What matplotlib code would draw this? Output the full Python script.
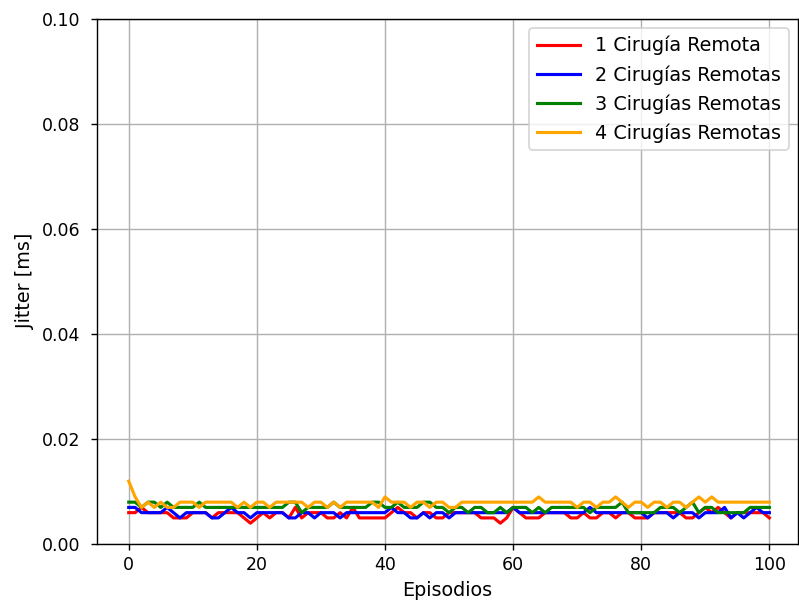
import numpy as np
import matplotlib
matplotlib.use("Agg")
import matplotlib.pyplot as plt

episodes = np.arange(0, 101)

jitter_1 = [
    0.006, 0.006, 0.007, 0.006, 0.006, 0.006, 0.006, 0.005, 0.005, 0.005,
    0.006, 0.006, 0.006, 0.005, 0.006, 0.006, 0.006, 0.006, 0.005, 0.004,
    0.005, 0.006, 0.005, 0.006, 0.006, 0.005, 0.007, 0.005, 0.006, 0.006,
    0.006, 0.005, 0.005, 0.006, 0.005, 0.007, 0.005, 0.005, 0.005, 0.005,
    0.005, 0.006, 0.007, 0.006, 0.006, 0.005, 0.006, 0.006, 0.005, 0.005,
    0.006, 0.006, 0.006, 0.006, 0.006, 0.005, 0.005, 0.005, 0.004, 0.005,
    0.007, 0.006, 0.005, 0.005, 0.005, 0.006, 0.006, 0.006, 0.006, 0.005,
    0.005, 0.006, 0.005, 0.005, 0.006, 0.006, 0.005, 0.006, 0.006, 0.005,
    0.005, 0.005, 0.006, 0.006, 0.006, 0.006, 0.006, 0.005, 0.005, 0.006,
    0.007, 0.006, 0.007, 0.006, 0.005, 0.006, 0.006, 0.006, 0.006, 0.006,
    0.005,
]

jitter_2 = [
    0.007, 0.007, 0.006, 0.006, 0.006, 0.006, 0.007, 0.006, 0.005, 0.006,
    0.006, 0.006, 0.006, 0.005, 0.005, 0.006, 0.007, 0.006, 0.006, 0.005,
    0.006, 0.006, 0.006, 0.006, 0.006, 0.005, 0.005, 0.006, 0.006, 0.005,
    0.006, 0.006, 0.006, 0.005, 0.006, 0.006, 0.006, 0.006, 0.006, 0.006,
    0.006, 0.007, 0.006, 0.006, 0.005, 0.005, 0.006, 0.005, 0.006, 0.006,
    0.005, 0.006, 0.006, 0.006, 0.006, 0.006, 0.006, 0.006, 0.006, 0.006,
    0.007, 0.006, 0.006, 0.006, 0.006, 0.006, 0.006, 0.006, 0.006, 0.006,
    0.006, 0.006, 0.007, 0.006, 0.006, 0.006, 0.006, 0.006, 0.006, 0.006,
    0.006, 0.005, 0.006, 0.006, 0.006, 0.005, 0.006, 0.006, 0.006, 0.005,
    0.006, 0.006, 0.006, 0.007, 0.005, 0.006, 0.005, 0.006, 0.007, 0.006,
    0.006,
]

jitter_3 = [
    0.008, 0.008, 0.007, 0.008, 0.008, 0.007, 0.008, 0.007, 0.007, 0.007,
    0.007, 0.008, 0.007, 0.007, 0.007, 0.007, 0.007, 0.007, 0.007, 0.007,
    0.007, 0.007, 0.007, 0.007, 0.007, 0.008, 0.008, 0.006, 0.007, 0.007,
    0.007, 0.007, 0.008, 0.007, 0.007, 0.007, 0.007, 0.007, 0.008, 0.008,
    0.007, 0.007, 0.008, 0.007, 0.007, 0.007, 0.008, 0.008, 0.007, 0.007,
    0.006, 0.007, 0.007, 0.006, 0.007, 0.007, 0.006, 0.006, 0.007, 0.006,
    0.007, 0.007, 0.007, 0.006, 0.007, 0.006, 0.007, 0.007, 0.007, 0.007,
    0.007, 0.007, 0.006, 0.007, 0.007, 0.007, 0.007, 0.008, 0.006, 0.006,
    0.006, 0.006, 0.006, 0.007, 0.007, 0.007, 0.006, 0.007, 0.008, 0.006,
    0.007, 0.007, 0.006, 0.006, 0.006, 0.006, 0.006, 0.007, 0.007, 0.007,
    0.007,
]

jitter_4 = [
    0.012, 0.009, 0.007, 0.008, 0.007, 0.008, 0.007, 0.007, 0.008, 0.008,
    0.008, 0.007, 0.008, 0.008, 0.008, 0.008, 0.008, 0.007, 0.008, 0.007,
    0.008, 0.008, 0.007, 0.008, 0.008, 0.008, 0.008, 0.008, 0.007, 0.008,
    0.008, 0.007, 0.008, 0.007, 0.008, 0.008, 0.008, 0.008, 0.008, 0.007,
    0.009, 0.008, 0.008, 0.008, 0.007, 0.008, 0.008, 0.007, 0.008, 0.008,
    0.007, 0.007, 0.008, 0.008, 0.008, 0.008, 0.008, 0.008, 0.008, 0.008,
    0.008, 0.008, 0.008, 0.008, 0.009, 0.008, 0.008, 0.008, 0.008, 0.008,
    0.007, 0.008, 0.008, 0.007, 0.008, 0.008, 0.009, 0.008, 0.007, 0.008,
    0.008, 0.007, 0.008, 0.008, 0.007, 0.008, 0.008, 0.007, 0.008, 0.009,
    0.008, 0.009, 0.008, 0.008, 0.008, 0.008, 0.008, 0.008, 0.008, 0.008,
    0.008,
]

series = [
    (jitter_1, "red", "1 Cirugía Remota"),
    (jitter_2, "blue", "2 Cirugías Remotas"),
    (jitter_3, "green", "3 Cirugías Remotas"),
    (jitter_4, "orange", "4 Cirugías Remotas"),
]

fig, ax = plt.subplots(figsize=(6.392, 4.848), dpi=125)
fig.subplots_adjust(left=0.121, right=0.999, top=0.969, bottom=0.102)

for values, color, label in series:
    ax.plot(episodes, values, color=color, linewidth=1.8, label=label)

ax.set_xlim(-5, 104.5)
ax.set_ylim(0, 0.10)
ax.set_xlabel("Episodios", fontsize=11)
ax.set_ylabel("Jitter [ms]", fontsize=11)
ax.tick_params(axis="y", pad=6)
ax.grid(True)
ax.legend(loc="upper right", fontsize=11, handlelength=2.25)

fig.savefig("out.png", dpi=125)
